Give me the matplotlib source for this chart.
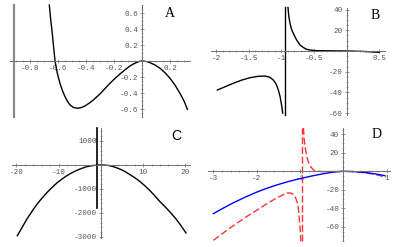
import numpy as np
import matplotlib
matplotlib.use("Agg")
import matplotlib.pyplot as plt

plt.rcParams['axes.unicode_minus'] = False

# ---- data ----
# panel A
a_x = [-0.662, -0.652, -0.641, -0.631, -0.621, -0.605, -0.586, -0.568, -0.55, -0.532,
       -0.514, -0.49, -0.462, -0.435, -0.407, -0.378, -0.348, -0.3, -0.265, -0.229,
       -0.193, -0.157, -0.12, -0.086, -0.06, -0.038, -0.018, 0.0, 0.03, 0.057,
       0.093, 0.129, 0.165, 0.2, 0.236, 0.271, 0.3, 0.324]
a_y = [0.70, 0.52, 0.35, 0.17, 0.0, -0.15, -0.279, -0.37, -0.446, -0.505,
       -0.55, -0.58, -0.591, -0.583, -0.562, -0.528, -0.488, -0.412, -0.345, -0.279,
       -0.218, -0.162, -0.108, -0.062, -0.036, -0.018, -0.005, 0.0, -0.006, -0.021,
       -0.05, -0.091, -0.148, -0.216, -0.302, -0.404, -0.50, -0.604]
a_pole = -0.914

# panel B
b_left_x = [-1.98, -1.86, -1.736, -1.61, -1.48, -1.36, -1.25, -1.18, -1.124, -1.08,
            -1.047, -1.02, -1.006, -0.99, -0.98]
b_left_y = [-37.7, -34.5, -31.2, -28.2, -25.8, -24.5, -24.2, -25.3, -28.0, -32.0,
            -37.7, -44.0, -49.0, -55.0, -60.0]
b_right_x = [-0.899, -0.885, -0.868, -0.845, -0.818, -0.79, -0.766, -0.715, -0.66,
             -0.613, -0.54, -0.46, -0.2, 0.0, 0.25, 0.5]
b_right_y = [42.0, 33.0, 26.8, 21.0, 17.1, 13.5, 10.6, 5.8, 3.2,
             1.6, 0.8, 0.3, 0.1, 0.0, -0.4, -1.3]
b_pole = -0.944

# panel C
c_x = [-19.74, -18.6, -17.5, -16.3, -15.15, -14.0, -12.79, -11.6, -10.43, -9.25,
       -8.07, -6.9, -5.7, -4.5, -3.33, -2.2, -1.0, 0.0, 1.0, 2.17,
       3.35, 4.54, 5.7, 6.9, 8.1, 9.27, 10.45, 11.63, 12.8, 14.0,
       15.2, 16.36, 17.55, 18.72, 20.14]
c_y = [-2946, -2600, -2260, -1940, -1650, -1400, -1160, -950, -755, -595,
       -450, -330, -225, -140, -70, -30, -8, 0, -6, -30,
       -90, -170, -270, -400, -540, -690, -870, -1070, -1290, -1530,
       -1740, -1960, -2200, -2470, -2833]
c_pole = -0.97

# panel D
d_blue_x = [-3.0, -2.75, -2.54, -2.25, -2.0, -1.77, -1.54, -1.27, -1.0, -0.73,
            -0.46, -0.23, 0.0, 0.27, 0.54, 0.75, 0.96]
d_blue_y = [-45.7, -39.2, -34.0, -27.6, -22.5, -18.4, -14.8, -11.1, -7.9, -5.1,
            -2.6, -0.9, 0.0, -0.4, -1.5, -2.9, -4.7]
d_red_left_x = [-3.0, -2.77, -2.54, -2.27, -2.0, -1.77, -1.54, -1.41, -1.29, -1.21,
                -1.15, -1.1, -1.06, -1.035, -1.015, -0.995, -0.98]
d_red_left_y = [-74.5, -66.5, -58.7, -50.0, -42.0, -35.2, -28.8, -25.8, -23.4, -23.5,
                -25.2, -28.8, -34.2, -41.0, -52.2, -63.0, -75.5]
d_red_right_x = [-0.92, -0.905, -0.885, -0.85, -0.81, -0.75, -0.69, -0.58, -0.46,
                 -0.2, 0.0, 0.25, 0.5, 0.75, 0.99]
d_red_right_y = [46.7, 35.0, 27.0, 17.5, 10.4, 4.8, 1.4, 0.0, -0.4,
                 -0.2, 0.0, -0.4, -1.6, -3.6, -6.5]
d_pole = -0.957

AX_COL = '#707070'


def setup(ax, xlim, ylim, xb, yb, xmaj, xlab, xmin, ymaj, ylab, ymin):
    ax.set_xlim(xlim)
    ax.set_ylim(ylim)
    ax.patch.set_visible(False)
    for s in ['top', 'right']:
        ax.spines[s].set_visible(False)
    ax.spines['left'].set_position(('data', 0))
    ax.spines['bottom'].set_position(('data', 0))
    ax.spines['bottom'].set_bounds(*xb)
    ax.spines['left'].set_bounds(*yb)
    for s in ['left', 'bottom']:
        ax.spines[s].set_color(AX_COL)
        ax.spines[s].set_linewidth(0.7)
    ax.set_xticks(xmaj, labels=xlab)
    ax.set_xticks(xmin, minor=True)
    ax.set_yticks(ymaj, labels=ylab)
    ax.set_yticks(ymin, minor=True)
    ax.tick_params(which='major', direction='inout', length=3.5, width=0.5,
                   color=AX_COL, labelsize=5.5, labelcolor='#555555', pad=1.2)
    ax.tick_params(which='minor', direction='inout', length=2, width=0.4, color=AX_COL)
    for t in ax.get_xticklabels() + ax.get_yticklabels():
        t.set_family('Liberation Mono')


def minors(lo, hi, step):
    n0 = int(np.ceil(lo / step - 1e-9))
    n1 = int(np.floor(hi / step + 1e-9))
    return [k * step for k in range(n0, n1 + 1)]


fig = plt.figure(figsize=(4, 2.47), dpi=100)
W, H = 400.0, 247.0


def quad(px, py, pw, ph):
    return fig.add_axes([px / W, 1 - (py + ph) / H, pw / W, ph / H])


# ---- A ----
ax = quad(0, 0, 200, 123)
setup(ax, (-1.014, 0.414), (-0.775, 0.7625), (-0.943, 0.343), (-0.70, 0.70),
      [-0.8, -0.6, -0.4, -0.2, 0.2], ['-0.8', '-0.6', '-0.4', '-0.2', '0.2'],
      minors(-0.943, 0.343, 0.05),
      [-0.6, -0.4, -0.2, 0.2, 0.4, 0.6], ['-0.6', '-0.4', '-0.2', '0.2', '0.4', '0.6'],
      minors(-0.70, 0.70, 0.05))
ax.plot([a_pole, a_pole], [-0.70, 0.70], color='#8a8a8a', lw=1.6)
ax.plot(a_x, a_y, color='black', lw=1.0)
ax.text(0.85, 0.89, 'A', transform=ax.transAxes, ha='center', va='center',
        family='Liberation Serif', fontsize=10)

# ---- B ----
ax = quad(200, 0, 200, 123)
setup(ax, (-2.246, 0.816), (-69.6, 49.3), (-2.07, 0.585), (-61.8, 41.3),
      [-2, -1.5, -1, -0.5, 0.5], ['-2', '-1.5', '-1', '-0.5', '0.5'],
      minors(-2.07, 0.585, 0.1),
      [-60, -40, -20, 20, 40], ['-60', '-40', '-20', '20', '40'],
      minors(-61.8, 41.3, 5))
ax.plot([b_pole, b_pole], [-61.8, 42.2], color='black', lw=1.0)
ax.plot(b_left_x, b_left_y, color='black', lw=1.0)
ax.plot(b_right_x, b_right_y, color='black', lw=1.0)
ax.text(0.875, 0.875, 'B', transform=ax.transAxes, ha='center', va='center',
        family='Liberation Serif', fontsize=10)

# ---- C ----
ax = quad(0, 123, 200, 124)
setup(ax, (-23.83, 23.45), (-3417, 1750), (-21.1, 21.1), (-3040, 1540),
      [-20, -10, 10, 20], ['-20', '-10', '10', '20'],
      minors(-21.1, 21.1, 2),
      [-3000, -2000, -1000, 1000], ['-3000', '-2000', '-1000', '1000'],
      minors(-3040, 1540, 200))
ax.plot([c_pole, c_pole], [-1800, 1540], color='black', lw=1.2)
ax.plot(c_x, c_y, color='black', lw=1.0)
ax.text(0.883, 0.895, 'C', transform=ax.transAxes, ha='center', va='center',
        family='Liberation Sans', fontsize=10)

# ---- D ----
ax = quad(200, 123, 200, 124)
setup(ax, (-3.309, 1.309), (-81.7, 52.1), (-3.12, 1.078), (-75.5, 46.7),
      [-3, -2, -1, 1], ['-3', '-2', '-1', '1'],
      minors(-3.12, 1.078, 0.2),
      [-60, -40, -20, 20, 40], ['-60', '-40', '-20', '20', '40'],
      minors(-75.5, 46.7, 5))
dash = dict(color='#ff3333', lw=1.0, dashes=(5, 2))
ax.plot([d_pole, d_pole], [-75.5, 46.7], **dash)
ax.plot(d_red_left_x, d_red_left_y, **dash)
ax.plot(d_red_right_x, d_red_right_y, **dash)
ax.plot(d_blue_x, d_blue_y, color='blue', lw=1.0)
ax.text(0.883, 0.905, 'D', transform=ax.transAxes, ha='center', va='center',
        family='Liberation Serif', fontsize=10)

fig.savefig('out.png', dpi=100)
